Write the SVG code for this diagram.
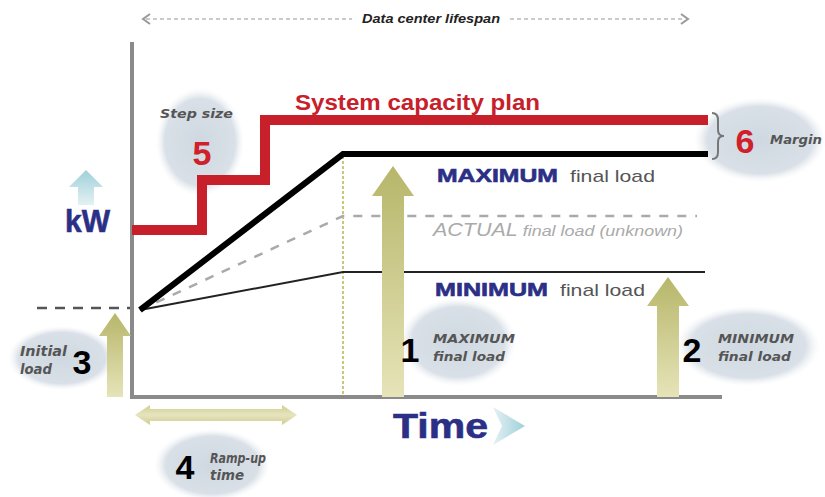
<svg xmlns="http://www.w3.org/2000/svg" width="825" height="497" viewBox="0 0 825 497">
<style>
.lab{font-family:"DejaVu Sans","Liberation Sans",Arial,sans-serif;font-style:italic;font-weight:bold;fill:#555}
.num{font-family:"Liberation Sans",Arial,sans-serif;font-weight:bold}
.navy{fill:#2b2f86;font-family:"Liberation Sans",Arial,sans-serif;font-weight:bold;stroke:#2b2f86;stroke-width:0.6}
.fl{fill:#555;font-family:"Liberation Sans",Arial,sans-serif}
</style>
<defs>
<radialGradient id="blob" cx="50%" cy="50%" r="50%">
<stop offset="0" stop-color="#cfd8e1"/>
<stop offset="0.8" stop-color="#d9e0e7"/>
<stop offset="1" stop-color="#eef1f4" stop-opacity="0"/>
</radialGradient>
<linearGradient id="olive" x1="0" y1="0" x2="0" y2="1">
<stop offset="0" stop-color="#b7b66a"/>
<stop offset="1" stop-color="#e6e4b8"/>
</linearGradient>
<linearGradient id="oliveH" x1="0" y1="0" x2="0" y2="1">
<stop offset="0" stop-color="#cfcd92"/>
<stop offset="0.5" stop-color="#e6e4bd"/>
<stop offset="1" stop-color="#cfcd92"/>
</linearGradient>
<linearGradient id="sky" x1="0" y1="0" x2="1" y2="0">
<stop offset="0" stop-color="#e4f1f3"/>
<stop offset="1" stop-color="#9fd0da"/>
</linearGradient>
<linearGradient id="skyV" x1="0" y1="1" x2="0" y2="0">
<stop offset="0" stop-color="#e4f1f3"/>
<stop offset="1" stop-color="#9fd0da"/>
</linearGradient>
</defs>

<!-- soft label backdrops -->
<g id="backdrops">
<ellipse cx="200" cy="142" rx="44" ry="54" fill="url(#blob)"/>
<ellipse cx="760" cy="140" rx="66" ry="42" fill="url(#blob)"/>
<ellipse cx="62" cy="358" rx="54" ry="32" fill="url(#blob)"/>
<ellipse cx="458" cy="342" rx="58" ry="44" fill="url(#blob)"/>
<ellipse cx="748" cy="346" rx="72" ry="40" fill="url(#blob)"/>
<ellipse cx="212" cy="465" rx="58" ry="36" fill="url(#blob)"/>
</g>

<!-- axes -->
<g id="axes" fill="none" stroke="#8a8a8a" stroke-width="4">
<path d="M132 42 V397 H722"/>
</g>

<!-- lifespan span -->
<g id="lifespan">
<line x1="146" y1="19" x2="352" y2="19" stroke="#bbb" stroke-width="1.5" stroke-dasharray="4 3"/>
<line x1="510" y1="19" x2="684" y2="19" stroke="#bbb" stroke-width="1.5" stroke-dasharray="4 3"/>
<path d="M150 14 L143 19 L150 24" fill="none" stroke="#999" stroke-width="2"/>
<path d="M681 14 L688 19 L681 24" fill="none" stroke="#999" stroke-width="2"/>
<text x="362" y="23" textLength="138" lengthAdjust="spacingAndGlyphs" font-family="Liberation Sans,Arial,sans-serif" font-style="italic" font-weight="bold" font-size="12.5" fill="#222">Data center lifespan</text>
</g>

<!-- load curves and capacity plan -->
<g id="connectors" fill="none">
<line x1="37" y1="308" x2="130" y2="308" stroke="#555" stroke-width="2.5" stroke-dasharray="10 8"/>
<line x1="343" y1="156" x2="343" y2="395" stroke="#c9c77a" stroke-width="2" stroke-dasharray="3 2"/>
<path d="M140 310 L343 216 H697" stroke="#aaa" stroke-width="2.5" stroke-dasharray="9 9"/>
<path d="M140 310 L343 272 H705" stroke="#222" stroke-width="2"/>
<path d="M140 310 L343 154 H708" stroke="#000" stroke-width="6"/>
<path d="M132 230 H202 V180 H265 V120 H708" stroke="#c8202a" stroke-width="10"/>
<path d="M712 113 Q718 113 718 120 V130 Q718 136 724 136 Q718 136 718 142 V152 Q718 159 712 159" stroke="#777" stroke-width="2"/>
</g>

<!-- olive arrows -->
<g id="arrow1"><path d="M382 397 V196 H372 L393 166 L414 196 H404 V397 Z" fill="url(#olive)"/></g>
<g id="arrow2"><path d="M657 397 V306 H647 L668 277 L689 306 H679 V397 Z" fill="url(#olive)"/></g>
<g id="arrow3"><path d="M107 397 V336 H99 L115 313 L131 336 H123 V397 Z" fill="url(#olive)"/></g>
<g id="arrow4"><path d="M135 415 L150 405 V409 H282 V405 L297 415 L282 425 V421 H150 V425 Z" fill="url(#oliveH)"/></g>

<!-- axis names -->
<g id="kw">
<path d="M86 170 L103 187 H94 V205 H78 V187 H69 Z" fill="url(#skyV)"/>
<text x="65" y="232" textLength="45" lengthAdjust="spacingAndGlyphs" class="navy" font-size="32" stroke-width="1.2">kW</text>
</g>
<g id="time">
<path d="M493 407 L525 426 L493 445 L502 426 Z" fill="url(#sky)"/>
<text x="393" y="438" textLength="95" lengthAdjust="spacingAndGlyphs" class="navy" font-size="35" stroke-width="2.2">Time</text>
</g>

<!-- curve labels -->
<g id="plan-label"><text x="295" y="110" textLength="245" lengthAdjust="spacingAndGlyphs" class="num" font-size="22" fill="#c8202a">System capacity plan</text></g>
<g id="max-label"><text x="437" y="182" textLength="121" lengthAdjust="spacingAndGlyphs" class="navy" font-size="19">MAXIMUM</text><text x="570" y="182" textLength="85" lengthAdjust="spacingAndGlyphs" class="fl" font-size="17">final load</text></g>
<g id="actual-label"><text x="433" y="236" textLength="250" lengthAdjust="spacingAndGlyphs" font-family="Liberation Sans,Arial,sans-serif" font-style="italic" fill="#aaa"><tspan font-size="18">ACTUAL</tspan><tspan font-size="15"> final load (unknown)</tspan></text></g>
<g id="min-label"><text x="435" y="296" textLength="113" lengthAdjust="spacingAndGlyphs" class="navy" font-size="19">MINIMUM</text><text x="560" y="296" textLength="85" lengthAdjust="spacingAndGlyphs" class="fl" font-size="17">final load</text></g>

<!-- numbered notes -->
<g id="note5"><text x="160" y="118" textLength="73" lengthAdjust="spacingAndGlyphs" class="lab" font-size="13">Step size</text><text x="202" y="165" text-anchor="middle" class="num" font-size="34" fill="#d0202a">5</text></g>
<g id="note6"><text x="745" y="153" text-anchor="middle" class="num" font-size="34" fill="#d0202a">6</text><text x="770" y="144" textLength="52" lengthAdjust="spacingAndGlyphs" class="lab" font-size="13">Margin</text></g>
<g id="note3"><text x="20" y="356" textLength="47" lengthAdjust="spacingAndGlyphs" class="lab" font-size="14">Initial</text><text x="20" y="374" textLength="32" lengthAdjust="spacingAndGlyphs" class="lab" font-size="14">load</text><text x="82" y="374" text-anchor="middle" class="num" font-size="34" fill="#000">3</text></g>
<g id="note1"><text x="410" y="362" text-anchor="middle" class="num" font-size="34" fill="#000">1</text><text x="433" y="343" textLength="82" lengthAdjust="spacingAndGlyphs" class="lab" font-size="13">MAXIMUM</text><text x="433" y="361" textLength="72" lengthAdjust="spacingAndGlyphs" class="lab" font-size="13">final load</text></g>
<g id="note2"><text x="692" y="362" text-anchor="middle" class="num" font-size="34" fill="#000">2</text><text x="718" y="343" textLength="76" lengthAdjust="spacingAndGlyphs" class="lab" font-size="13">MINIMUM</text><text x="718" y="361" textLength="73" lengthAdjust="spacingAndGlyphs" class="lab" font-size="13">final load</text></g>
<g id="note4"><text x="185" y="479" text-anchor="middle" class="num" font-size="34" fill="#000">4</text><text x="210" y="463" textLength="56" lengthAdjust="spacingAndGlyphs" class="lab" font-size="14">Ramp-up</text><text x="210" y="480" textLength="34" lengthAdjust="spacingAndGlyphs" class="lab" font-size="14">time</text></g>
</svg>
